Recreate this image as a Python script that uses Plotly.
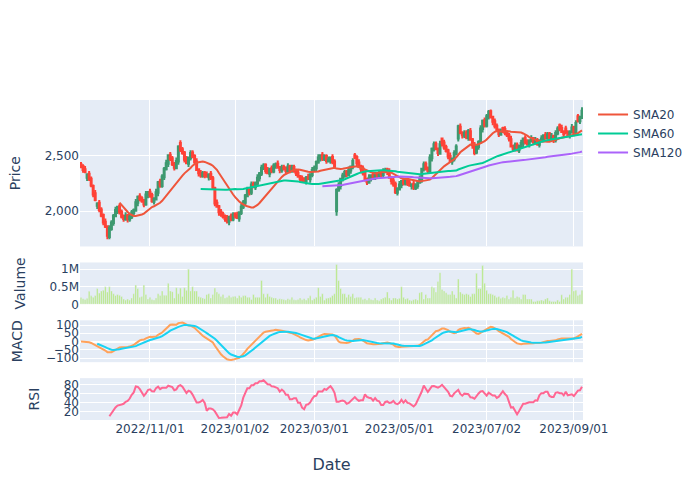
import pandas as pd
import plotly.graph_objects as go
from plotly.subplots import make_subplots

start_date = "2022-09-14"
end_date = "2023-09-08"
market_holidays = ["2022-11-24", "2022-12-26", "2023-01-02", "2023-01-16", "2023-02-20",
                   "2023-04-07", "2023-05-29", "2023-06-19", "2023-07-04", "2023-09-04"]

open_ = [
    2420, 2405, 2375, 2300, 2335, 2290, 2225, 2160, 2050, 2075,
    2015, 1965, 1905, 1865, 1770, 1840, 1895, 1955, 2005, 2045,
    1995, 1955, 1925, 1965, 1925, 1945, 1985, 2005, 2075, 2135,
    2115, 2095, 2060, 2145, 2175, 2145, 2085, 2105, 2165, 2265,
    2225, 2305, 2375, 2425, 2505, 2475, 2425, 2385, 2445, 2610,
    2555, 2525, 2465, 2425, 2475, 2525, 2495, 2445, 2375, 2345,
    2315, 2345, 2325, 2305, 2335, 2295, 2205, 2075, 2045, 1995,
    1975, 1955, 1935, 1905, 1955, 1925, 1975, 1965, 1935, 1985,
    2035, 2075, 2135, 2195, 2165, 2245, 2215, 2245, 2295, 2335,
    2385, 2415, 2365, 2335, 2385, 2355, 2405, 2425, 2395, 2365,
    2395, 2385, 2355, 2405, 2365, 2395, 2365, 2345, 2315, 2295,
    2285, 2265, 2305, 2285, 2325, 2365, 2385, 2435, 2475, 2505,
    2465, 2495, 2445, 2455, 2485, 2445, 2000, 2185, 2225, 2285,
    2315, 2355, 2325, 2365, 2395, 2500, 2485, 2435, 2405, 2385,
    2345, 2285, 2255, 2295, 2325, 2295, 2335, 2315, 2345, 2325,
    2355, 2375, 2355, 2305, 2275, 2245, 2165, 2195, 2235, 2275,
    2245, 2285, 2255, 2225, 2245, 2205, 2225, 2255, 2285, 2375,
    2425, 2385, 2355, 2475, 2555, 2605, 2555, 2515, 2650, 2615,
    2575, 2545, 2495, 2445, 2465, 2515, 2650, 2755, 2705, 2675,
    2705, 2655, 2715, 2645, 2595, 2525, 2575, 2615, 2735, 2815,
    2765, 2845, 2895, 2845, 2805, 2765, 2725, 2685, 2745, 2735,
    2705, 2685, 2645, 2585, 2555, 2595, 2545, 2575, 2605, 2655,
    2625, 2595, 2625, 2655, 2615, 2635, 2595, 2625, 2645, 2685,
    2655, 2695, 2645, 2675, 2635, 2695, 2770, 2745, 2715, 2740,
    2705, 2675, 2705, 2755, 2705, 2850, 2805, 2835,
]

high = [
    2440, 2420, 2405, 2340, 2360, 2310, 2240, 2190, 2080, 2100,
    2035, 1980, 1935, 1875, 1875, 1920, 1975, 2040, 2050, 2070,
    2015, 1970, 1990, 1975, 1975, 2010, 2025, 2110, 2140, 2160,
    2135, 2110, 2180, 2180, 2200, 2165, 2125, 2200, 2270, 2290,
    2330, 2395, 2460, 2510, 2530, 2495, 2440, 2480, 2590, 2635,
    2575, 2540, 2495, 2490, 2545, 2545, 2510, 2475, 2385, 2370,
    2360, 2360, 2355, 2340, 2360, 2315, 2220, 2105, 2055, 2020,
    1995, 1970, 1965, 1960, 1980, 1990, 1990, 1995, 2000, 2065,
    2100, 2155, 2220, 2205, 2265, 2265, 2265, 2330, 2350, 2415,
    2430, 2430, 2395, 2390, 2410, 2430, 2435, 2455, 2405, 2415,
    2415, 2400, 2430, 2415, 2415, 2415, 2380, 2375, 2325, 2320,
    2305, 2315, 2335, 2340, 2395, 2410, 2455, 2510, 2510, 2530,
    2510, 2510, 2490, 2490, 2510, 2465, 2205, 2260, 2300, 2345,
    2370, 2370, 2400, 2410, 2475, 2520, 2500, 2465, 2415, 2410,
    2365, 2300, 2330, 2330, 2350, 2350, 2350, 2370, 2355, 2385,
    2390, 2390, 2385, 2315, 2300, 2265, 2215, 2270, 2280, 2300,
    2300, 2300, 2285, 2250, 2270, 2250, 2275, 2320, 2390, 2445,
    2445, 2400, 2510, 2570, 2625, 2625, 2570, 2630, 2660, 2640,
    2595, 2560, 2525, 2480, 2545, 2600, 2775, 2785, 2715, 2725,
    2725, 2735, 2745, 2655, 2620, 2600, 2635, 2770, 2820, 2840,
    2870, 2905, 2910, 2855, 2830, 2785, 2740, 2740, 2755, 2760,
    2725, 2700, 2675, 2595, 2615, 2615, 2595, 2640, 2660, 2680,
    2645, 2645, 2680, 2665, 2665, 2655, 2645, 2680, 2690, 2710,
    2710, 2710, 2700, 2685, 2725, 2760, 2785, 2775, 2725, 2765,
    2725, 2725, 2780, 2765, 2815, 2870, 2855, 2930,
]

low = [
    2385, 2345, 2340, 2270, 2270, 2215, 2125, 2090, 2020, 1990,
    1945, 1875, 1850, 1750, 1750, 1825, 1870, 1945, 1975, 1970,
    1935, 1905, 1915, 1900, 1905, 1930, 1960, 1995, 2045, 2090,
    2075, 2035, 2050, 2115, 2120, 2075, 2060, 2095, 2135, 2210,
    2210, 2280, 2365, 2395, 2450, 2405, 2365, 2375, 2415, 2530,
    2505, 2435, 2420, 2395, 2455, 2475, 2415, 2360, 2310, 2300,
    2300, 2295, 2300, 2275, 2280, 2195, 2045, 2030, 1960, 1950,
    1935, 1905, 1890, 1875, 1910, 1910, 1935, 1930, 1905, 1965,
    2020, 2050, 2125, 2140, 2145, 2205, 2190, 2235, 2265, 2315,
    2370, 2335, 2330, 2305, 2340, 2340, 2380, 2380, 2340, 2345,
    2365, 2335, 2345, 2340, 2345, 2345, 2315, 2300, 2260, 2260,
    2255, 2240, 2280, 2255, 2305, 2350, 2360, 2425, 2445, 2450,
    2450, 2425, 2435, 2425, 2420, 2385, 1960, 2175, 2195, 2265,
    2300, 2305, 2315, 2335, 2375, 2465, 2405, 2390, 2350, 2320,
    2265, 2235, 2245, 2265, 2280, 2280, 2295, 2305, 2300, 2305,
    2340, 2325, 2290, 2240, 2220, 2155, 2140, 2185, 2205, 2230,
    2230, 2225, 2220, 2195, 2190, 2190, 2200, 2245, 2255, 2355,
    2365, 2335, 2345, 2445, 2535, 2545, 2495, 2505, 2580, 2550,
    2525, 2465, 2440, 2415, 2445, 2500, 2625, 2690, 2650, 2655,
    2645, 2630, 2630, 2560, 2500, 2510, 2550, 2605, 2705, 2750,
    2750, 2820, 2830, 2770, 2740, 2715, 2665, 2675, 2700, 2680,
    2665, 2625, 2570, 2530, 2535, 2535, 2520, 2565, 2575, 2600,
    2585, 2570, 2615, 2590, 2595, 2585, 2570, 2615, 2615, 2640,
    2640, 2625, 2635, 2610, 2615, 2680, 2715, 2700, 2660, 2690,
    2665, 2650, 2695, 2670, 2685, 2795, 2780, 2825,
]

close = [
    2400, 2370, 2350, 2330, 2290, 2230, 2150, 2100, 2070, 2010,
    1960, 1900, 1860, 1780, 1850, 1900, 1960, 2010, 2040, 1990,
    1950, 1930, 1960, 1930, 1950, 1990, 2010, 2080, 2130, 2110,
    2090, 2060, 2150, 2170, 2140, 2090, 2110, 2170, 2260, 2230,
    2310, 2380, 2430, 2500, 2470, 2420, 2390, 2450, 2580, 2550,
    2520, 2460, 2430, 2480, 2520, 2490, 2440, 2370, 2340, 2320,
    2340, 2320, 2310, 2330, 2300, 2210, 2070, 2040, 1990, 1970,
    1950, 1930, 1910, 1950, 1930, 1970, 1960, 1940, 1990, 2040,
    2080, 2140, 2190, 2170, 2240, 2220, 2250, 2300, 2340, 2390,
    2410, 2360, 2340, 2380, 2360, 2410, 2420, 2390, 2370, 2390,
    2380, 2360, 2400, 2370, 2390, 2360, 2340, 2310, 2290, 2280,
    2270, 2300, 2290, 2330, 2370, 2390, 2440, 2480, 2500, 2470,
    2490, 2450, 2460, 2480, 2440, 2400, 2190, 2230, 2290, 2320,
    2350, 2330, 2370, 2400, 2450, 2480, 2430, 2400, 2380, 2340,
    2280, 2260, 2300, 2320, 2300, 2330, 2320, 2340, 2330, 2360,
    2370, 2350, 2300, 2270, 2240, 2170, 2200, 2240, 2270, 2250,
    2280, 2250, 2230, 2240, 2210, 2230, 2260, 2290, 2380, 2420,
    2380, 2360, 2480, 2560, 2600, 2560, 2520, 2600, 2610, 2570,
    2540, 2490, 2450, 2470, 2520, 2580, 2760, 2700, 2680, 2700,
    2660, 2720, 2640, 2590, 2520, 2580, 2620, 2740, 2810, 2770,
    2850, 2890, 2840, 2800, 2760, 2730, 2690, 2710, 2730, 2700,
    2680, 2650, 2580, 2560, 2590, 2550, 2580, 2610, 2650, 2620,
    2600, 2630, 2650, 2620, 2640, 2600, 2630, 2650, 2680, 2660,
    2690, 2650, 2670, 2640, 2700, 2740, 2740, 2710, 2690, 2710,
    2680, 2710, 2750, 2700, 2790, 2810, 2840, 2900,
]

volume_k = [
    190, 160, 140, 170, 370, 240, 200, 250, 450, 320,
    380, 400, 500, 350, 500, 380, 300, 250, 280, 260,
    220, 150, 120, 150, 120, 180, 300, 550, 450, 200,
    220, 550, 280, 150, 200, 140, 120, 180, 300, 250,
    380, 260, 260, 600, 380, 360, 180, 470, 300, 460,
    220, 470, 400, 1000, 380, 500, 380, 380, 220, 200,
    180, 160, 280, 300, 180, 280, 460, 350, 300, 220,
    280, 180, 200, 250, 200, 220, 230, 180, 250, 200,
    240, 250, 200, 200, 140, 280, 200, 200, 200, 680,
    300, 200, 300, 220, 200, 180, 180, 140, 160, 150,
    140, 120, 160, 140, 200, 130, 120, 140, 180, 130,
    160, 120, 180, 240, 120, 160, 200, 470, 220, 300,
    120, 170, 180, 200, 250, 300, 1130, 680, 450, 300,
    300, 200, 280, 220, 300, 180, 200, 200, 200, 140,
    160, 120, 180, 140, 120, 180, 120, 100, 150, 180,
    200, 350, 180, 120, 180, 180, 150, 170, 500, 200,
    150, 170, 120, 100, 130, 150, 120, 330, 350, 150,
    280, 180, 180, 500, 470, 350, 650, 900, 420, 380,
    330, 280, 280, 380, 280, 180, 720, 350, 300, 280,
    300, 280, 220, 300, 300, 880, 450, 450, 1100, 600,
    400, 300, 300, 280, 250, 200, 220, 170, 200, 180,
    250, 150, 200, 400, 180, 220, 200, 150, 280, 280,
    150, 150, 150, 80, 80, 100, 100, 120, 100, 150,
    180, 100, 80, 80, 80, 120, 80, 270, 150, 200,
    200, 280, 1000, 380, 400, 250, 280, 400,
]

dates = pd.bdate_range(start_date, end_date)
dates = dates[~dates.isin(pd.to_datetime(market_holidays))]
n = min(len(dates), len(close))
dates = dates[:n]

df = pd.DataFrame({
    "Open": open_[:n], "High": high[:n], "Low": low[:n], "Close": close[:n],
    "Volume": [v * 1000 for v in volume_k[:n]],
}, index=dates)

df["SMA20"] = df["Close"].rolling(20).mean()
df["SMA60"] = df["Close"].rolling(60).mean()
df["SMA120"] = df["Close"].rolling(120).mean()
ema12 = df["Close"].ewm(span=12).mean()
ema26 = df["Close"].ewm(span=26).mean()
df["MACD"] = ema12 - ema26
df["Signal"] = df["MACD"].ewm(span=9, min_periods=9).mean()
delta = df["Close"].diff()
gain = delta.clip(lower=0).rolling(14).mean()
loss = (-delta.clip(upper=0)).rolling(14).mean()
df["RSI"] = 100 - 100 / (1 + gain / loss)

all_days = pd.date_range(df.index[0], df.index[-1])
obs = set(df.index.strftime("%Y-%m-%d"))
missing = [d for d in all_days.strftime("%Y-%m-%d") if d not in obs]

fig = make_subplots(rows=4, cols=1, shared_xaxes=True, vertical_spacing=0.05,
                    row_heights=[0.7, 0.2, 0.2, 0.2])

fig.add_trace(go.Candlestick(x=df.index, open=df["Open"], high=df["High"], low=df["Low"],
                             close=df["Close"], showlegend=False, name="Price"), row=1, col=1)
fig.add_trace(go.Scatter(x=df.index, y=df["SMA20"], mode="lines", name="SMA20",
                         line=dict(color="#EF553B")), row=1, col=1)
fig.add_trace(go.Scatter(x=df.index, y=df["SMA60"], mode="lines", name="SMA60",
                         line=dict(color="#00CC96")), row=1, col=1)
fig.add_trace(go.Scatter(x=df.index, y=df["SMA120"], mode="lines", name="SMA120",
                         line=dict(color="#AB63FA")), row=1, col=1)
fig.add_trace(go.Bar(x=df.index, y=df["Volume"], marker_color="#B6E880", showlegend=False,
                     name="Volume"), row=2, col=1)
fig.add_trace(go.Scatter(x=df.index, y=df["MACD"], mode="lines", line=dict(color="#FFA15A"),
                         showlegend=False, name="MACD"), row=3, col=1)
fig.add_trace(go.Scatter(x=df.index, y=df["Signal"], mode="lines", line=dict(color="#19D3F3"),
                         showlegend=False, name="Signal"), row=3, col=1)
fig.add_trace(go.Scatter(x=df.index, y=df["RSI"], mode="lines", line=dict(color="#FF6692"),
                         showlegend=False, name="RSI"), row=4, col=1)

fig.update_xaxes(rangebreaks=[dict(values=missing)], tickformat="%Y/%m/%d", automargin=False)
fig.update_xaxes(title_text="Date", title_standoff=23, title_font_size=16, row=4, col=1)
fig.update_yaxes(automargin=False, title_standoff=20)
fig.update_yaxes(title_text="Price", separatethousands=True, row=1, col=1)
fig.update_yaxes(title_text="Valume", row=2, col=1)
fig.update_yaxes(title_text="MACD", dtick=50, row=3, col=1)
fig.update_yaxes(title_text="RSI", dtick=20, row=4, col=1)
fig.update_layout(width=700, height=500, xaxis_rangeslider_visible=False,
                  font=dict(family="DejaVu Sans"),
                  margin=dict(l=80, r=117, t=100, b=80))

fig.write_html("out.html", config={"displayModeBar": False},
               post_script="document.body.style.margin='0';document.body.style.overflow='hidden';")
